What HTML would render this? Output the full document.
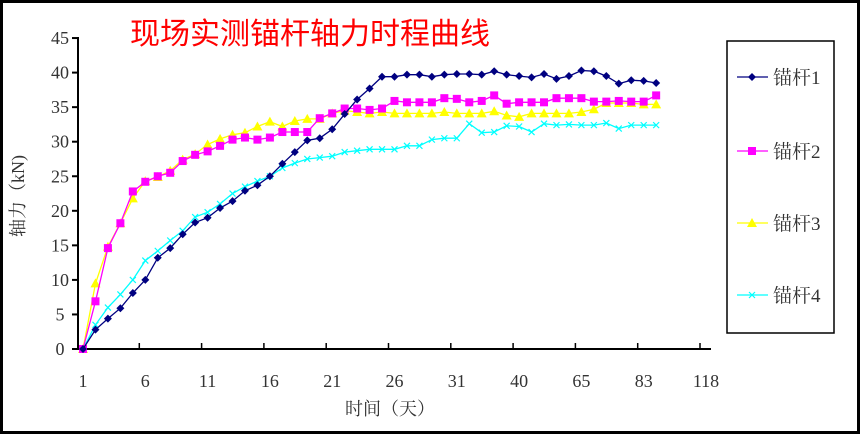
<!DOCTYPE html>
<html><head><meta charset="utf-8">
<style>
html,body{margin:0;padding:0;background:#fff;}
svg{display:block;}
text{font-family:"Liberation Serif","Noto Serif CJK SC",serif;}
</style></head><body>
<svg id="c" width="860" height="434" xmlns="http://www.w3.org/2000/svg">
<rect x="1.5" y="1.5" width="857" height="431" fill="#fff" stroke="#000" stroke-width="3"/>
<text x="310" y="44" font-size="30" fill="#ff0000" text-anchor="middle" style='font-family:"Liberation Sans","Noto Sans CJK SC",sans-serif'>现场实测锚杆轴力时程曲线</text>
<g id="axes" stroke="#000" stroke-width="2" fill="none">
<line x1="78" y1="37" x2="78" y2="350"/>
<line x1="77" y1="349" x2="711" y2="349"/>
</g>
<g id="g"></g>
<text transform="translate(24,196) rotate(-90)" font-size="18" fill="#333" text-anchor="middle">轴力（kN)</text>
<text x="390" y="415" font-size="18" fill="#333" text-anchor="middle">时间（天）</text>
<rect x="727" y="41" width="107" height="292" fill="#fff" stroke="#000" stroke-width="1.5"/>
</svg>
<script>
var g=document.getElementById('g'),NS='http://www.w3.org/2000/svg';
function el(n,a,p){var e=document.createElementNS(NS,n);for(var k in a)e.setAttribute(k,a[k]);(p||g).appendChild(e);return e;}
function Y(v){return 349-v*6.91;}
for(var i=0;i<=9;i++){var y=Y(i*5);el('line',{x1:72,y1:y,x2:78,y2:y,stroke:'#000','stroke-width':2});
 var t=el('text',{x:60,y:y+6,'font-size':18,fill:'#333','text-anchor':'middle'});t.textContent=i*5;}
var labs=['1','6','11','16','21','26','31','40','65','83','118'];
for(var i=1;i<=10;i++){var x=77+62.3*i;el('line',{x1:x,y1:343,x2:x,y2:349,stroke:'#000','stroke-width':1.5});}
for(var i=0;i<11;i++){var t=el('text',{x:83+62.3*i,y:387,'font-size':18,fill:'#333','text-anchor':'middle'});t.textContent=labs[i];}
var D=[
[0,2.8,4.4,5.9,8.1,10,13.2,14.6,16.6,18.3,19,20.4,21.4,22.9,23.7,25,26.8,28.5,30.2,30.5,31.8,34,36.1,37.7,39.4,39.4,39.7,39.7,39.4,39.7,39.8,39.8,39.7,40.2,39.7,39.5,39.3,39.8,39.1,39.5,40.3,40.2,39.5,38.4,38.9,38.8,38.5],
[0,6.9,14.6,18.2,22.8,24.2,25,25.5,27.2,28.1,28.6,29.4,30.3,30.6,30.3,30.6,31.4,31.4,31.4,33.4,34.1,34.8,34.8,34.6,34.8,35.9,35.7,35.7,35.7,36.3,36.2,35.7,35.9,36.7,35.5,35.7,35.7,35.7,36.3,36.3,36.3,35.8,35.8,35.9,35.8,35.8,36.7],
[0,9.5,14.8,18.2,21.8,24.3,24.9,25.8,27.4,28.2,29.6,30.4,31,31.3,32.2,32.9,32.2,33,33.3,33.3,34.1,34.5,34.3,34.1,34.3,34.1,34.1,34.1,34.1,34.3,34.1,34.1,34.1,34.4,33.8,33.6,34.1,34.1,34.1,34.1,34.3,34.7,35.6,35.6,35.6,35.4,35.4],
[0,3.5,6,7.9,10,12.8,14.2,15.7,17.1,19.1,19.8,21,22.5,23.5,24.3,25,26.2,26.9,27.5,27.7,27.9,28.5,28.7,28.9,28.9,28.9,29.4,29.4,30.3,30.5,30.5,32.6,31.3,31.4,32.3,32.2,31.4,32.6,32.4,32.5,32.4,32.4,32.7,31.9,32.4,32.4,32.4]];
var C=['#000080','#ff00ff','#ffff00','#00ffff'];
function mark(s,x,y){
 if(s==0)el('path',{d:'M'+x+' '+(y-4)+'L'+(x+4)+' '+y+'L'+x+' '+(y+4)+'L'+(x-4)+' '+y+'Z',fill:C[0]});
 else if(s==1)el('rect',{x:x-4,y:y-4,width:8,height:8,fill:C[1]});
 else if(s==2)el('path',{d:'M'+x+' '+(y-5)+'L'+(x+5)+' '+(y+4)+'L'+(x-5)+' '+(y+4)+'Z',fill:C[2]});
 else el('path',{d:'M'+(x-3)+' '+(y-3)+'L'+(x+3)+' '+(y+3)+'M'+(x+3)+' '+(y-3)+'L'+(x-3)+' '+(y+3),stroke:C[3],'stroke-width':1.2});
}
for(var s=3;s>=0;s--){var p='';D[s].forEach(function(v,i){p+=(i?'L':'M')+(83+12.46*i).toFixed(1)+' '+Y(v).toFixed(1);});
 el('path',{d:p,fill:'none',stroke:C[s],'stroke-width':1.3});
 D[s].forEach(function(v,i){mark(s,83+12.46*i,Y(v));});}
var ly=[77,151,223,295];
for(var s=0;s<4;s++){el('line',{x1:737,y1:ly[s],x2:768,y2:ly[s],stroke:C[s],'stroke-width':1.3},document.getElementById('c'));
 g=document.getElementById('c');mark(s,752,ly[s]);
 var t=el('text',{x:773,y:ly[s]+7,'font-size':19,fill:'#333'});t.textContent='锚杆'+(s+1);}
</script>
</body></html>
